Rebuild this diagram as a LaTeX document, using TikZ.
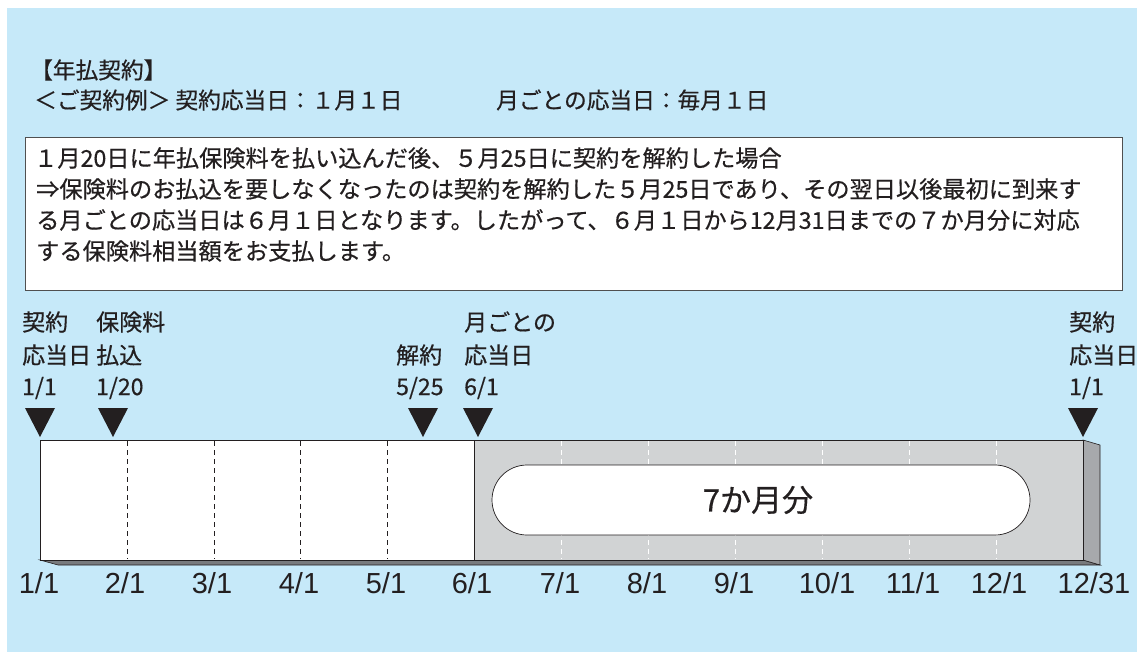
\documentclass[tikz,border=0pt]{standalone}
\usepackage{fontspec}
\setmainfont{Noto Sans CJK JP}[FakeBold=0.5]
\newfontfamily\datefont{Liberation Sans}
\definecolor{bgblue}{RGB}{198,233,249}
\definecolor{ink}{RGB}{35,31,32}
\definecolor{barfill}{RGB}{209,211,212}
\definecolor{sideface}{RGB}{167,169,172}
\definecolor{bottomface}{RGB}{120,122,125}
\definecolor{boxline}{RGB}{80,80,80}
\begin{document}
\begin{tikzpicture}[x=1pt,y=-1pt,
  every node/.style={inner sep=0pt, text=ink},
  head/.style={font=\fontsize{22.7}{27}\selectfont, anchor=west},
  body/.style={font=\fontsize{23.2}{27}\selectfont, anchor=west},
  lbl/.style={font=\fontsize{23}{27}\selectfont, anchor=west},
  datelbl/.style={font=\datefont\fontsize{29}{32}\selectfont, anchor=center},
  tri/.style={fill=ink},
  monthdash/.style={ink, dash pattern=on 5pt off 4pt, line width=0.6pt},
  monthdashw/.style={white, dash pattern=on 5pt off 4pt, line width=0.8pt},
  edge/.style={draw=ink, line width=0.9pt}]
\useasboundingbox (0,0) rectangle (1137,652);
\fill[bgblue] (7,8) rectangle (1137,652);

% header
\node[head] (h1) at (30,70) {【年払契約】};
\node[head] (h2) at (34,100) {＜ご契約例＞ 契約応当日：１月１日};
\node[head] (h3) at (496,100) {月ごとの応当日：毎月１日};

% explanation box
\draw[draw=boxline, line width=0.9pt, fill=white] (25,137) rectangle (1122,290);
\node[body] (b1) at (34,158) {１月20日に年払保険料を払い込んだ後、５月25日に契約を解約した場合};
\node[body] (b2) at (36,189) {⇒保険料のお払込を要しなくなったのは契約を解約した５月25日であり、その翌日以後最初に到来す};
\node[body] (b3) at (36,220) {る月ごとの応当日は６月１日となります。したがって、６月１日から12月31日までの７か月分に対応};
\node[body] (b4) at (36,251) {する保険料相当額をお支払します。};

% labels above timeline
\node[lbl] (l1a) at (22,322) {契約};
\node[lbl] (l1b) at (22,355) {応当日};
\node[lbl] (l1c) at (22,388) {1/1};
\node[lbl] (l2a) at (96,322) {保険料};
\node[lbl] (l2b) at (96,355) {払込};
\node[lbl] (l2c) at (96,388) {1/20};
\node[lbl] (l3b) at (396,355) {解約};
\node[lbl] (l3c) at (396,388) {5/25};
\node[lbl] (l4a) at (464,322) {月ごとの};
\node[lbl] (l4b) at (464,355) {応当日};
\node[lbl] (l4c) at (464,388) {6/1};
\node[lbl] (l5a) at (1069,322) {契約};
\node[lbl] (l5b) at (1069,355) {応当日};
\node[lbl] (l5c) at (1069,388) {1/1};

% triangles
\foreach \tx in {40,113,423,478,1083}
  \fill[tri] (\tx-15,408) -- (\tx+15,408) -- (\tx,437) -- cycle;

% bar: bottom face and side face
\filldraw[fill=bottomface, draw=ink, line width=0.6pt] (40,560) -- (1083,560) -- (1100,565) -- (58,565) -- cycle;
\filldraw[fill=sideface, draw=ink, line width=0.6pt] (1083,440) -- (1100,445) -- (1100,565) -- (1083,560) -- cycle;
% front: white part and gray part
\fill[white] (40,440) rectangle (474,560);
\fill[barfill] (474,440) rectangle (1083,560);
\foreach \mx in {127,214,300,387}
  \draw[monthdash] (\mx,441) -- (\mx,559);
\foreach \mx in {561,648,735,822,909,996}
  \draw[monthdashw] (\mx,441) -- (\mx,559);
\draw[ink, line width=0.7pt] (474,440) -- (474,560);
\draw[edge] (40,440) rectangle (1083,560);

% 7 months pill
\draw[ink, line width=0.7pt, fill=white, rounded corners=35pt] (492,465) rectangle (1030,535);
\node[font=\fontsize{31}{34}\selectfont] (seven) at (758,500) {7か月分};

% dates below
\foreach \dx/\dt/\nm in {39/1\slash 1/d1,125/2\slash 1/d2,212/3\slash 1/d3,299/4\slash 1/d4,386/5\slash 1/d5,472/6\slash 1/d6,560/7\slash 1/d7,647/8\slash 1/d8,734/9\slash 1/d9,827/10\slash 1/d10,913/11\slash 1/d11,999/12\slash 1/d12,1094/12\slash 31/d13}
  \node[datelbl] (\nm) at (\dx,583) {\dt};
\end{tikzpicture}
\end{document}
